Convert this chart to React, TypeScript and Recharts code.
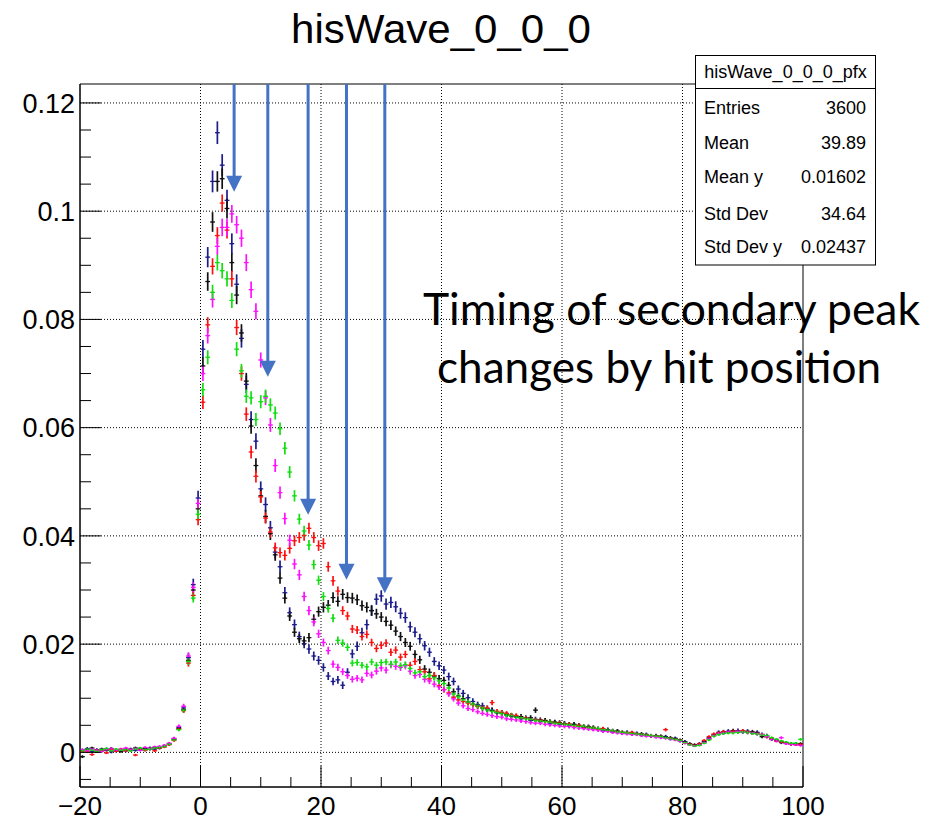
import React from "react";
import {
  ScatterChart,
  Scatter,
  XAxis,
  YAxis,
  ErrorBar,
  ReferenceLine,
  ReferenceArea,
} from "recharts";

// profile binning: 150 bins of 0.8 between -20 and 100
const binStart = -20;
const binWidth = 0.8;

const navyValues = [
  0.0004, 0.0007, 0.0002, 0.0005, 0.0003, 0.0006, 0.0001, 0.0004, 0.0005, 0.0003,
  0.0006, 0.0004, 0.0007, 0.0005, 0.0008, 0.0006, 0.0009, 0.0011, 0.0015, 0.0025,
  0.0046, 0.0082, 0.0175, 0.031, 0.047, 0.0745, 0.0915, 0.1055, 0.1145, 0.1085,
  0.102, 0.094, 0.0865, 0.0765, 0.068, 0.0615, 0.0575, 0.0487, 0.0458, 0.0415,
  0.037, 0.0343, 0.0295, 0.0258, 0.0236, 0.0214, 0.0201, 0.0191, 0.0178, 0.017,
  0.0157, 0.0141, 0.0131, 0.0134, 0.0124, 0.0148, 0.0182, 0.0196, 0.0221, 0.0236,
  0.0262, 0.0283, 0.0289, 0.0274, 0.0277, 0.0269, 0.0257, 0.0249, 0.0232, 0.0222,
  0.021, 0.0197, 0.0185, 0.0168, 0.016, 0.0152, 0.014, 0.0131, 0.0117, 0.0109,
  0.0101, 0.0094, 0.0088, 0.0086, 0.0081, 0.0078, 0.0074, 0.0073, 0.0069, 0.0067,
  0.0066, 0.0062, 0.0063, 0.0059, 0.0061, 0.0057, 0.0058, 0.0054, 0.0055, 0.0052,
  0.0053, 0.0049, 0.0051, 0.0048, 0.0046, 0.0047, 0.0044, 0.0043, 0.004, 0.0042,
  0.0038, 0.0039, 0.0036, 0.0037, 0.0034, 0.0035, 0.0032, 0.0033, 0.003, 0.0031,
  0.0028, 0.0029, 0.0025, 0.0026, 0.0021, 0.002, 0.0015, 0.0013, 0.0016, 0.002,
  0.0027, 0.0032, 0.0037, 0.0036, 0.0039, 0.0038, 0.004, 0.0038, 0.0039, 0.0036,
  0.0037, 0.0033, 0.0031, 0.0024, 0.0023, 0.0018, 0.0018, 0.0015, 0.0016, 0.0014,
];

const blackValues = [
  -0.0008, 0.0005, 0.0008, 0.0002, 0.0006, 0.0004, 0.0007, 0.0003, 0.0002, 0.0006,
  0.0004, 0.0008, 0.0005, 0.0007, 0.0006, 0.0009, 0.0008, 0.0012, 0.0016, 0.0024,
  0.0044, 0.0079, 0.017, 0.03, 0.045, 0.0714, 0.087, 0.098, 0.1055, 0.106,
  0.1005, 0.0905, 0.0845, 0.0775, 0.0686, 0.0603, 0.053, 0.0474, 0.0436, 0.0404,
  0.0365, 0.0322, 0.0285, 0.0252, 0.0222, 0.021, 0.0206, 0.0212, 0.0246, 0.026,
  0.0268, 0.0272, 0.0286, 0.0279, 0.0292, 0.0286, 0.0285, 0.0282, 0.0271, 0.0268,
  0.0262, 0.0256, 0.025, 0.0242, 0.0235, 0.0224, 0.0214, 0.0203, 0.0196, 0.0181,
  0.0171, 0.0154, 0.0148, 0.0141, 0.0136, 0.0133, 0.0124, 0.0112, 0.0104, 0.0099,
  0.0093, 0.0089, 0.0086, 0.0082, 0.0079, 0.0077, 0.0073, 0.0072, 0.007, 0.0068,
  0.0065, 0.0066, 0.0063, 0.0064, 0.0078, 0.006, 0.0059, 0.0057, 0.0056, 0.0055,
  0.0053, 0.0052, 0.0052, 0.005, 0.0048, 0.0047, 0.0046, 0.0044, 0.0043, 0.0041,
  0.004, 0.0039, 0.0037, 0.0036, 0.0036, 0.0034, 0.0034, 0.0032, 0.0031, 0.003,
  0.003, 0.0028, 0.0027, 0.0025, 0.0023, 0.0019, 0.0016, 0.0014, 0.0015, 0.0019,
  0.0025, 0.0032, 0.0035, 0.0038, 0.0038, 0.004, 0.0039, 0.0039, 0.0037, 0.0038,
  0.0035, 0.0029, 0.0029, 0.0025, 0.0022, 0.002, 0.0017, 0.0016, 0.0015, 0.0016,
];

const redValues = [
  0.0002, 0.0001, -0.0004, 0.0004, 0.0003, -0.0001, 0.0005, 0.0002, 0.0006, 0.0003,
  0.0005, -0.0005, 0.0006, 0.0004, 0.0007, 0.0003, 0.0008, 0.001, 0.0014, 0.0022,
  0.0043, 0.0077, 0.0165, 0.029, 0.043, 0.0647, 0.079, 0.0898, 0.0955, 0.1015,
  0.0965, 0.0875, 0.0785, 0.07, 0.0625, 0.0555, 0.051, 0.0472, 0.0433, 0.0407,
  0.0378, 0.0369, 0.0364, 0.0377, 0.0391, 0.0397, 0.0401, 0.0414, 0.0397, 0.0382,
  0.0386, 0.0343, 0.0317, 0.0298, 0.0262, 0.0252, 0.0228, 0.0226, 0.0214, 0.0218,
  0.0203, 0.0192, 0.0198, 0.0202, 0.0185, 0.0189, 0.0176, 0.0181, 0.0161, 0.0168,
  0.0153, 0.0149, 0.0136, 0.0142, 0.0123, 0.0116, 0.011, 0.0102, 0.0097, 0.0094,
  0.0091, 0.0088, 0.0085, 0.0083, 0.0082, 0.0092, 0.0076, 0.0074, 0.0072, 0.0069,
  0.0068, 0.0064, 0.0063, 0.0061, 0.006, 0.0059, 0.0057, 0.0056, 0.0054, 0.0054,
  0.0052, 0.0052, 0.0049, 0.005, 0.0047, 0.0046, 0.0045, 0.0043, 0.0044, 0.004,
  0.004, 0.0038, 0.0037, 0.0036, 0.0037, 0.0034, 0.0033, 0.0032, 0.0031, 0.003,
  0.0029, 0.0042, 0.0026, 0.0024, 0.0022, 0.0018, 0.0015, 0.0013, 0.0016, 0.0022,
  0.0029, 0.0034, 0.0036, 0.0038, 0.0037, 0.0039, 0.0038, 0.004, 0.0038, 0.0036,
  0.0035, 0.0033, 0.0029, 0.0026, 0.0021, 0.0019, 0.0017, 0.0015, 0.0014, 0.0015,
];

const magentaValues = [
  0.0005, 0.0003, 0.0006, 0.0004, 0.0002, 0.0005, 0.0007, 0.0004, 0.0006, 0.0008,
  0.0005, 0.0007, 0.0004, 0.0009, 0.0007, 0.001, 0.0011, 0.0013, 0.0017, 0.0026,
  0.0048, 0.0085, 0.0178, 0.0305, 0.046, 0.07, 0.077, 0.0837, 0.0935, 0.097,
  0.097, 0.0995, 0.0975, 0.095, 0.0905, 0.0855, 0.0815, 0.0725, 0.0655, 0.0605,
  0.053, 0.048, 0.0432, 0.0392, 0.0348, 0.0328, 0.0288, 0.0262, 0.0241, 0.0219,
  0.0203, 0.0188, 0.0163, 0.0157, 0.0149, 0.0142, 0.0135, 0.0137, 0.0134, 0.0146,
  0.0143, 0.015, 0.0156, 0.0152, 0.0162, 0.0159, 0.0157, 0.016, 0.015, 0.0142,
  0.0144, 0.0135, 0.0132, 0.0126, 0.0121, 0.0116, 0.0108, 0.0099, 0.0091, 0.0086,
  0.0081, 0.0079, 0.0075, 0.0072, 0.007, 0.0068, 0.0066, 0.0065, 0.0062, 0.0061,
  0.006, 0.0058, 0.0057, 0.0055, 0.0054, 0.0054, 0.0052, 0.0051, 0.005, 0.0049,
  0.0048, 0.0048, 0.0046, 0.0045, 0.0044, 0.0043, 0.0042, 0.0041, 0.0039, 0.0039,
  0.0037, 0.0036, 0.0035, 0.0034, 0.0033, 0.0033, 0.0031, 0.003, 0.003, 0.0028,
  0.0027, 0.0026, 0.0025, 0.0023, 0.0021, 0.0017, 0.0014, 0.0012, 0.0014, 0.0018,
  0.0025, 0.0031, 0.0035, 0.0036, 0.0038, 0.0037, 0.0039, 0.0038, 0.0037, 0.0036,
  0.0034, 0.0033, 0.0029, 0.0024, 0.0021, 0.0027, 0.0016, 0.0015, 0.0014, 0.0013,
];

const greenValues = [
  0.0003, 0.0006, 0.0004, 0.0002, 0.0005, 0.0007, 0.0003, 0.0006, 0.0004, 0.0005,
  0.0003, 0.0006, 0.0008, 0.0005, 0.0006, 0.0008, 0.0009, 0.0011, 0.0015, 0.0023,
  0.0042, 0.0078, 0.0168, 0.0285, 0.044, 0.067, 0.073, 0.085, 0.0905, 0.089,
  0.0875, 0.0835, 0.0745, 0.0705, 0.0658, 0.0655, 0.0615, 0.0648, 0.0658, 0.0642,
  0.0627, 0.0598, 0.0562, 0.0518, 0.0474, 0.0431, 0.0409, 0.0383, 0.0347, 0.0318,
  0.0288, 0.0266, 0.0248, 0.0207, 0.0202, 0.0194, 0.0165, 0.0166, 0.0161, 0.0158,
  0.0167, 0.0161, 0.0166, 0.0167, 0.0163, 0.0167, 0.016, 0.0162, 0.0155, 0.0147,
  0.0149, 0.014, 0.0142, 0.0138, 0.0132, 0.0127, 0.0119, 0.0108, 0.0103, 0.0097,
  0.0093, 0.0089, 0.0086, 0.0082, 0.0079, 0.0076, 0.0074, 0.0072, 0.0069, 0.0068,
  0.0065, 0.0064, 0.0062, 0.0061, 0.0059, 0.0058, 0.0057, 0.0056, 0.0054, 0.0053,
  0.0052, 0.0051, 0.005, 0.0048, 0.0048, 0.0046, 0.0045, 0.0044, 0.0042, 0.0041,
  0.004, 0.0038, 0.0037, 0.0036, 0.0035, 0.0034, 0.0033, 0.0032, 0.0031, 0.003,
  0.0029, 0.0027, 0.0026, 0.0024, 0.0022, 0.0018, 0.0014, 0.0012, 0.0013, 0.0017,
  0.0023, 0.003, 0.0033, 0.0035, 0.0036, 0.0036, 0.0037, 0.0038, 0.0037, 0.0035,
  0.0034, 0.0032, 0.0031, 0.0027, 0.0024, 0.0021, 0.0019, 0.0017, 0.0017, 0.0024,
];

// arrows marking the secondary peaks
const arrowX = [5.58, 11.17, 17.86, 24.23, 30.59];
const arrowTip = [0.1036, 0.0694, 0.0439, 0.0319, 0.0294];

const xMajorTicks = [-20, 0, 20, 40, 60, 80, 100];
const xMajorLabels = ["\u221220", "0", "20", "40", "60", "80", "100"];
const xMinorTicks = [-15, -10, -5, 5, 10, 15, 25, 30, 35, 45, 50, 55, 65, 70, 75, 85, 90, 95];
const yMajorTicks = [0, 0.02, 0.04, 0.06, 0.08, 0.1, 0.12];
const yMajorLabels = ["0", "0.02", "0.04", "0.06", "0.08", "0.1", "0.12"];
const yMinorTicks = [
  -0.005, 0.005, 0.01, 0.015, 0.025, 0.03, 0.035, 0.045, 0.05, 0.055,
  0.065, 0.07, 0.075, 0.085, 0.09, 0.095, 0.105, 0.11, 0.115,
];

const statsLabels = ["Entries", "Mean", "Mean y", "Std Dev", "Std Dev y"];
const statsValues = ["3600", "39.89", "0.01602", "34.64", "0.02437"];

const X_MIN = -20;
const X_MAX = 100;
const Y_MIN = -0.0064;
const Y_MAX = 0.1235;

const AXIS_FONT = "'Liberation Sans', Arial, Helvetica, sans-serif";
const ARROW_COLOR = "#4472C4";

const series = [
  { name: "navy", color: "#1c1c8c", values: navyValues, errScale: 0.0062 },
  { name: "black", color: "#111111", values: blackValues, errScale: 0.0058 },
  { name: "red", color: "#ff1010", values: redValues, errScale: 0.005 },
  { name: "magenta", color: "#ff10ff", values: magentaValues, errScale: 0.0052 },
  { name: "green", color: "#10e010", values: greenValues, errScale: 0.0048 },
];

const binCenters = navyValues.map((_, i) =>
  Number((binStart + binWidth * (i + 0.5)).toFixed(2))
);

const isMajor = (list: number[], v: number) =>
  list.findIndex((t) => Math.abs(t - v) < 1e-9);

function XTick(props: any) {
  const { x, y, payload } = props;
  const idx = isMajor(xMajorTicks, payload.value);
  const len = idx >= 0 ? 21 : 10;
  return (
    <g>
      <line x1={x} y1={y} x2={x} y2={y - len} stroke="#000" strokeWidth={1} />
      {idx >= 0 && (
        <text
          x={x}
          y={y + 28}
          textAnchor="middle"
          fontSize={26}
          fontFamily={AXIS_FONT}
          fill="#000"
        >
          {xMajorLabels[idx]}
        </text>
      )}
    </g>
  );
}

function YTick(props: any) {
  const { x, y, payload } = props;
  const idx = isMajor(yMajorTicks, payload.value);
  const len = idx >= 0 ? 21 : 11;
  return (
    <g>
      <line x1={x} y1={y} x2={x + len} y2={y} stroke="#000" strokeWidth={1} />
      {idx >= 0 && (
        <text
          x={x - 5}
          y={y}
          dy="0.36em"
          textAnchor="end"
          fontSize={27}
          fontFamily={AXIS_FONT}
          fill="#000"
        >
          {yMajorLabels[idx]}
        </text>
      )}
    </g>
  );
}

function ArrowShape(props: any) {
  const { x1, y1, y2 } = props;
  const top = Math.min(y1, y2);
  const tip = Math.max(y1, y2);
  const head = 16;
  const half = 8;
  return (
    <g>
      <line x1={x1} y1={top} x2={x1} y2={tip - head + 1} stroke={ARROW_COLOR} strokeWidth={3} />
      <polygon
        points={`${x1 - half},${tip - head} ${x1 + half},${tip - head} ${x1},${tip}`}
        fill={ARROW_COLOR}
      />
    </g>
  );
}

export default function App() {
  const xTicks = [...xMajorTicks, ...xMinorTicks].sort((a, b) => a - b);
  const yTicks = [...yMajorTicks, ...yMinorTicks].sort((a, b) => a - b);

  const seriesData = series.map((s) => ({
    ...s,
    // statistical error of each bin, grows like sqrt of the content
    points: binCenters.map((x, i) => ({
      x,
      y: s.values[i],
      ex: binWidth / 2,
      ey: s.errScale * Math.sqrt(Math.max(s.values[i], 0.002)),
    })),
  }));

  return (
    <div
      style={{
        position: "absolute",
        left: 0,
        top: 0,
        width: 942,
        height: 821,
        background: "#fff",
      }}
    >
      <ScatterChart
        width={942}
        height={821}
        margin={{ top: 84, right: 139, bottom: 0, left: 10 }}
      >
        <XAxis
          type="number"
          dataKey="x"
          domain={[X_MIN, X_MAX]}
          allowDataOverflow
          ticks={xTicks}
          interval={0}
          tickSize={0}
          tickMargin={0}
          tickLine={false}
          tick={XTick}
          axisLine={{ stroke: "#000" }}
          height={34}
        />
        <YAxis
          type="number"
          dataKey="y"
          domain={[Y_MIN, Y_MAX]}
          allowDataOverflow
          ticks={yTicks}
          interval={0}
          tickSize={0}
          tickMargin={0}
          tickLine={false}
          tick={YTick}
          axisLine={{ stroke: "#000" }}
          width={70}
        />
        {xMajorTicks
          .filter((v) => v > X_MIN && v < X_MAX)
          .map((v) => (
            <ReferenceLine
              key={`gx${v}`}
              x={v}
              stroke="#000"
              strokeWidth={1}
              strokeDasharray="1 2"
            />
          ))}
        {yMajorTicks.map((v) => (
          <ReferenceLine
            key={`gy${v}`}
            y={v}
            stroke="#000"
            strokeWidth={1}
            strokeDasharray="1 2"
          />
        ))}
        <ReferenceArea
          x1={X_MIN}
          x2={X_MAX}
          y1={Y_MIN}
          y2={Y_MAX}
          fill="none"
          fillOpacity={0}
          stroke="#000"
          strokeWidth={1}
          ifOverflow="visible"
        />
        {seriesData.map((s) => (
          <Scatter
            key={s.name}
            name={s.name}
            data={s.points}
            isAnimationActive={false}
            shape={(p: any) => <circle cx={p.cx} cy={p.cy} r={0.9} fill={s.color} />}
          >
            <ErrorBar
              dataKey="ey"
              direction="y"
              width={0}
              stroke={s.color}
              strokeWidth={1.7}
              isAnimationActive={false}
            />
            <ErrorBar
              dataKey="ex"
              direction="x"
              width={0}
              stroke={s.color}
              strokeWidth={1.3}
              isAnimationActive={false}
            />
          </Scatter>
        ))}
        {arrowX.map((ax, i) => (
          <ReferenceLine
            key={`arrow${i}`}
            segment={[
              { x: ax, y: Y_MAX },
              { x: ax, y: arrowTip[i] },
            ]}
            ifOverflow="visible"
            shape={ArrowShape}
          />
        ))}
      </ScatterChart>

      <svg
        width={942}
        height={821}
        style={{ position: "absolute", left: 0, top: 0, pointerEvents: "none" }}
      >
        <text
          x={291}
          y={43}
          fontSize={40}
          textLength={300}
          lengthAdjust="spacingAndGlyphs"
          fontFamily={AXIS_FONT}
          fill="#000"
        >
          hisWave_0_0_0
        </text>

        <rect x={695.5} y={55.5} width={180} height={209.5} fill="#fff" stroke="#000" strokeWidth={1} />
        <line x1={695.5} y1={88.5} x2={875.5} y2={88.5} stroke="#000" strokeWidth={1} />
        <text x={785.5} y={78} textAnchor="middle" fontSize={18} fontFamily={AXIS_FONT} fill="#000">
          hisWave_0_0_0_pfx
        </text>
        {statsLabels.map((label, i) => {
          const centers = [107, 142, 176, 213, 246];
          return (
            <g key={label}>
              <text x={704} y={centers[i] + 6.5} fontSize={18} fontFamily={AXIS_FONT} fill="#000">
                {label}
              </text>
              <text
                x={866}
                y={centers[i] + 6.5}
                textAnchor="end"
                fontSize={18}
                fontFamily={AXIS_FONT}
                fill="#000"
              >
                {statsValues[i]}
              </text>
            </g>
          );
        })}

        <text
          x={423}
          y={325}
          fontSize={45}
          textLength={497}
          lengthAdjust="spacingAndGlyphs"
          fontFamily="Lato, 'Open Sans', sans-serif"
          fill="#000"
        >
          Timing of secondary peak
        </text>
        <text
          x={437}
          y={383}
          fontSize={45}
          textLength={444}
          lengthAdjust="spacingAndGlyphs"
          fontFamily="Lato, 'Open Sans', sans-serif"
          fill="#000"
        >
          changes by hit position
        </text>
      </svg>
    </div>
  );
}
